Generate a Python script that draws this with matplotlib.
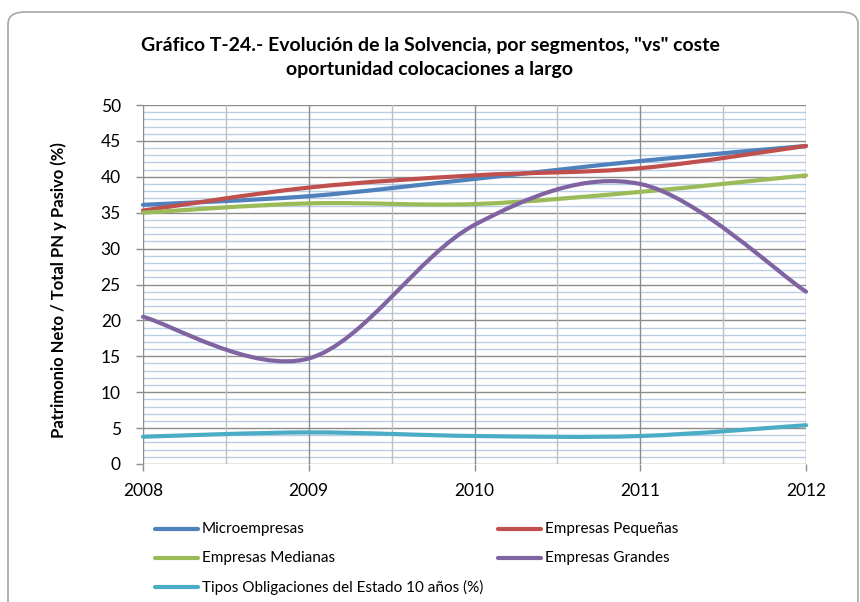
import matplotlib
matplotlib.use("Agg")
import matplotlib.pyplot as plt
import numpy as np
from matplotlib.path import Path
from matplotlib.patches import PathPatch, FancyBboxPatch
from matplotlib.lines import Line2D

years = [2008, 2009, 2010, 2011, 2012]
micro = [36.1, 37.3, 39.7, 42.2, 44.3]
pequenas = [35.3, 38.5, 40.2, 41.2, 44.3]
medianas = [35.0, 36.3, 36.2, 37.9, 40.2]
grandes = [20.5, 14.7, 33.3, 39.0, 24.0]
tipos = [3.8, 4.4, 3.9, 3.9, 5.4]

names = ["Microempresas", "Empresas Pequeñas", "Empresas Medianas",
         "Empresas Grandes", "Tipos Obligaciones del Estado 10 años (%)"]
colors = ["#4F81BD", "#C0504D", "#9BBB59", "#8064A2", "#4BACC6"]
series = [micro, pequenas, medianas, grandes, tipos]

FONT = "Lato"
plt.rcParams['font.family'] = [FONT, 'DejaVu Sans']

fig = plt.figure(figsize=(8.6, 6.02), dpi=100)
fig.patch.set_facecolor("white")
frame = FancyBboxPatch((8 / 860, -0.05), 850 / 860, 1 - 12 / 602 + 0.05,
                       boxstyle="round,pad=0,rounding_size=0.02",
                       transform=fig.transFigure, facecolor="none",
                       edgecolor="#A6A6A6", linewidth=1.2, zorder=10)
fig.add_artist(frame)

ax = fig.add_axes([143 / 860, 1 - 464 / 602, 663 / 860, 359 / 602])
ax.set_xlim(2008, 2012)
ax.set_ylim(0, 50)
ax.set_facecolor("white")


def smooth_path(xs, ys):
    pts = np.column_stack([xs, ys]).astype(float)
    n = len(pts)
    verts = [pts[0]]
    codes = [Path.MOVETO]
    for i in range(n - 1):
        p0 = pts[i - 1] if i > 0 else pts[i]
        p1 = pts[i]
        p2 = pts[i + 1]
        p3 = pts[i + 2] if i + 2 < n else pts[i + 1]
        c1 = p1 + (p2 - p0) / 6.0
        c2 = p2 - (p3 - p1) / 6.0
        verts += [c1, c2, p2]
        codes += [Path.CURVE4] * 3
    return Path(verts, codes)


for s, c in zip(series, colors):
    patch = PathPatch(smooth_path(years, s), facecolor="none", edgecolor=c,
                      linewidth=3.0, capstyle="round", joinstyle="round",
                      zorder=5, clip_on=False)
    ax.add_patch(patch)

# gridlines
for v in np.arange(0, 51, 1):
    if v % 5 != 0:
        ax.axhline(v, color="#B9CDE5", linewidth=1.0, zorder=1)
for v in np.arange(0, 51, 5):
    ax.axhline(v, color="#8C8C8C", linewidth=1.0, zorder=2)
for x in np.arange(2008.5, 2012, 1.0):
    ax.axvline(x, color="#BFBFBF", linewidth=1.0, zorder=2)
for x in years:
    ax.axvline(x, color="#8C8C8C", linewidth=1.0, zorder=2)

for sp in ax.spines.values():
    sp.set_visible(False)

ax.set_yticks(np.arange(0, 51, 5))
ax.set_xticks(years)
ax.set_xticklabels([str(y) for y in years])
ax.tick_params(axis="both", labelsize=12.5, colors="#8C8C8C", labelcolor="black",
               length=5, width=1)
ax.tick_params(axis="x", pad=9)
ax.tick_params(axis="y", pad=11)

ax.set_ylabel("Patrimonio Neto / Total PN y Pasivo (%)", fontsize=12,
              fontweight="bold")
ax.yaxis.set_label_coords((67 - 143) / 663, 0.485)

fig.text(430 / 860, 1 - 45 / 602, 'Gráfico T-24.- Evolución de la Solvencia, por segmentos, "vs" coste',
         ha="center", va="center", fontsize=14, fontweight="bold")
fig.text(430 / 860, 1 - 70 / 602, 'oportunidad colocaciones a largo',
         ha="center", va="center", fontsize=14, fontweight="bold")

# legend
rows = [529, 558, 587]
pos = [(155, rows[0]), (498, rows[0]), (155, rows[1]), (498, rows[1]), (155, rows[2])]
for (x, y), c, nm in zip(pos, colors, names):
    fy = 1 - y / 602
    fig.add_artist(Line2D([x / 860, (x + 43) / 860], [fy, fy], color=c,
                          linewidth=3.0, solid_capstyle="round",
                          transform=fig.transFigure))
    fig.text((x + 47) / 860, fy, nm, ha="left", va="center", fontsize=11)

fig.savefig("out.png", dpi=100)
